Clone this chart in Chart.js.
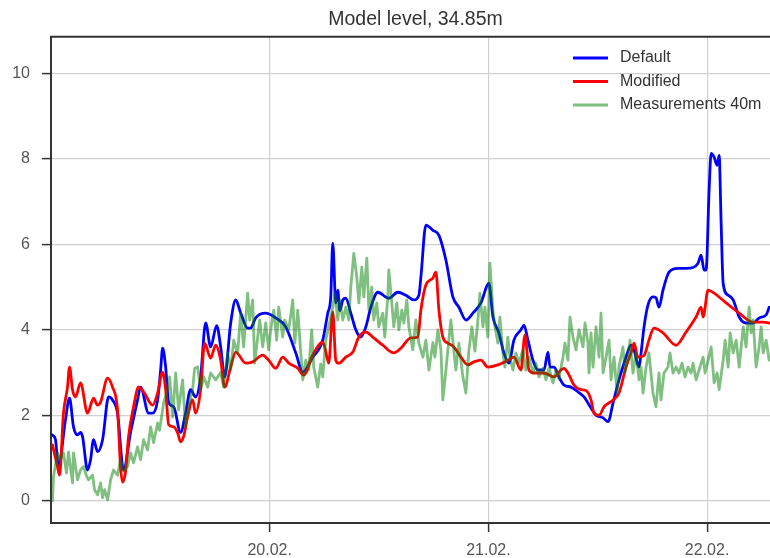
<!DOCTYPE html>
<html>
<head>
<meta charset="utf-8">
<script src="https://cdn.jsdelivr.net/npm/chart.js@4.4.1/dist/chart.umd.min.js"></script>
<style>
html, body { margin: 0; padding: 0; background: #fff; overflow: hidden; width: 770px; height: 558px; }
canvas { display: block; }
</style>
</head>
<body>
<canvas id="grafica" width="780" height="558"></canvas>
<script>
// horas desde 19.02. 00:00 , valor
const seriesNames = ['Default', 'Modified', 'Measurements 40m'];
const tickHours = [24, 48, 72];
const tickLabels = ['20.02.', '21.02.', '22.02.'];
const yTicks = [0, 2, 4, 6, 8, 10];

const defaultPts = [
  [0.16,1.54],[0.49,1.43],[0.82,0.8],[1.59,1.9],[2.03,2.4],[2.47,1.73],[2.91,1.54],[3.24,1.6],[3.46,1.5],[4.01,0.72],
  [4.34,0.96],[4.67,1.43],[5.11,1.15],[5.66,1.43],[6.32,2.43],[6.75,2.36],[7.3,2.05],[7.96,0.72],[8.73,1.6],[9.5,2.36],
  [9.83,2.66],[10.71,2.05],[11.15,2.05],[11.7,2.36],[12.03,3.06],[12.25,3.57],[12.58,3.13],[12.91,2.3],[13.46,2.2],[14.22,1.6],
  [14.77,2.05],[15.32,2.6],[15.87,2.43],[16.42,2.9],[16.97,4.16],[17.52,3.6],[18.18,4.1],[18.62,3.6],[19.06,2.9],[19.72,4.16],
  [20.27,4.7],[20.81,4.4],[21.58,4.04],[21.91,4.04],[22.46,4.28],[23.56,4.39],[24.66,4.28],[25.76,4.07],[26.86,3.46],[27.63,3.01],
  [28.72,3.36],[29.82,3.76],[30.37,4.39],[30.7,4.77],[30.92,6.03],[31.25,4.63],[31.47,4.93],[31.69,4.45],[32.02,4.7],[32.35,4.74],
  [32.9,4.39],[33.45,4.0],[34.0,3.83],[34.55,4.07],[35.1,4.53],[35.86,4.88],[37.07,4.74],[38.06,4.88],[38.94,4.81],[39.82,4.7],
  [40.37,4.81],[40.59,5.23],[41.14,6.45],[41.91,6.33],[42.57,6.21],[43.34,5.63],[44.1,4.77],[44.76,4.53],[45.53,4.23],[46.3,4.39],
  [47.18,4.63],[48.05,5.09],[48.5,4.3],[49.15,3.93],[49.7,3.46],[50.25,3.22],[50.8,3.76],[51.57,4.0],[51.9,4.11],[52.34,3.76],
  [52.89,3.29],[53.44,3.06],[54.1,3.06],[54.54,3.48],[54.76,3.13],[55.2,3.13],[55.74,2.9],[56.29,2.71],[57.06,2.66],[57.83,2.55],
  [58.49,2.43],[59.26,2.17],[59.81,2.0],[60.58,1.94],[61.13,1.85],[61.68,2.29],[62.33,2.83],[63.1,3.36],[63.65,3.64],[63.98,3.53],
  [64.53,3.13],[64.75,3.45],[65.08,4.07],[65.51,4.58],[66.06,4.77],[66.39,4.75],[66.72,4.53],[67.16,4.93],[67.82,5.35],[68.81,5.44],
  [69.69,5.44],[70.46,5.46],[71.01,5.56],[71.34,5.75],[71.67,5.4],[71.89,5.4],[72.22,7.27],[72.44,8.13],[72.77,8.04],[73.1,7.85],
  [73.32,8.08],[73.54,6.5],[73.76,5.09],[74.31,4.81],[74.86,4.7],[75.52,4.3],[76.28,4.16],[77.05,4.16],[77.71,4.28],[78.48,4.35],
  [78.81,4.53]
];

const modifiedPts = [
  [0.16,1.31],[0.71,0.8],[0.93,0.6],[1.37,2.05],[1.81,2.66],[2.03,3.13],[2.36,2.6],[2.69,2.43],[3.24,2.76],[4.01,2.05],
  [4.67,2.4],[5.11,2.24],[5.44,2.31],[6.21,2.87],[6.75,2.66],[7.3,2.13],[7.63,0.8],[7.85,0.44],[8.18,0.68],[8.51,1.5],
  [9.06,2.2],[9.61,2.66],[10.16,2.55],[11.15,2.24],[11.7,2.52],[12.25,3.01],[12.58,2.6],[12.91,1.78],[13.46,1.73],[13.9,1.59],
  [14.22,1.38],[14.55,1.5],[14.99,1.96],[15.54,2.36],[15.87,2.05],[16.42,2.6],[16.86,3.69],[17.52,3.34],[18.07,3.64],[18.62,3.29],
  [19.06,2.66],[19.72,3.13],[20.27,3.48],[21.36,3.22],[22.13,3.25],[23.23,3.41],[23.89,3.29],[24.66,3.1],[25.43,3.36],[26.09,3.22],
  [27.08,3.1],[27.74,2.94],[28.72,3.41],[29.82,3.71],[30.37,3.29],[30.48,3.22],[30.92,4.42],[31.25,3.29],[31.58,3.22],[32.35,3.36],
  [33.12,3.48],[33.78,3.83],[34.55,3.95],[35.31,3.83],[36.41,3.64],[37.62,3.46],[38.39,3.57],[39.49,3.81],[40.26,3.83],[40.59,4.46],
  [41.14,5.05],[41.91,5.21],[42.24,5.35],[42.57,4.46],[43.0,3.83],[43.55,3.69],[44.21,3.6],[44.98,3.36],[45.75,3.18],[46.41,3.25],
  [47.18,3.29],[47.94,3.13],[49.04,3.18],[50.14,3.29],[50.8,3.36],[51.57,3.06],[52.01,3.88],[52.45,3.06],[53.0,2.99],[54.1,2.99],
  [55.2,2.9],[55.96,3.06],[56.29,3.1],[56.73,2.99],[57.39,2.71],[58.16,2.6],[58.71,2.58],[59.26,2.36],[59.59,2.05],[60.14,2.0],
  [60.69,2.2],[61.68,2.36],[62.33,2.52],[63.1,3.13],[63.65,3.46],[63.98,3.69],[64.42,3.36],[65.08,3.4],[65.62,3.76],[66.17,4.04],
  [67.16,3.93],[68.59,3.64],[69.69,3.95],[70.79,4.3],[71.34,4.53],[71.56,4.3],[72.11,4.93],[72.77,4.86],[74.09,4.63],[75.52,4.39],
  [77.05,4.18],[78.15,4.18],[78.81,4.16]
];

const measuredPts = [
  [0.16,0.0],[0.27,0.56],[0.71,1.12],[1.04,0.96],[1.37,1.12],[1.7,0.65],[1.92,1.14],[2.36,0.42],[2.47,1.12],[2.91,0.49],
  [3.24,0.72],[3.57,0.8],[3.9,0.58],[4.12,0.49],[4.56,0.6],[4.78,0.26],[5.11,0.14],[5.44,0.42],[5.66,0.07],[5.88,0.26],
  [6.21,0.02],[6.54,0.49],[6.86,0.72],[7.3,0.6],[7.63,0.96],[7.96,0.7],[8.4,0.8],[8.73,1.12],[9.06,0.89],[9.5,1.26],
  [9.83,0.96],[10.16,1.43],[10.6,1.19],[10.93,1.73],[11.26,1.36],[11.7,1.82],[11.92,1.65],[12.36,2.29],[12.8,2.6],[13.02,2.9],
  [13.35,1.96],[13.68,2.99],[14.0,2.13],[14.44,2.83],[14.77,1.73],[15.1,2.2],[15.54,2.6],[15.76,3.1],[16.09,3.13],[16.42,2.6],
  [16.75,2.9],[17.19,2.66],[17.52,2.99],[18.07,2.83],[18.62,3.0],[18.95,2.66],[19.39,3.46],[19.72,3.06],[20.05,3.76],[20.48,3.45],
  [20.81,4.39],[21.14,3.6],[21.58,4.86],[21.8,4.23],[22.13,4.7],[22.35,3.22],[22.68,3.83],[22.9,4.23],[23.23,3.6],[23.56,4.16],
  [23.89,3.53],[24.11,4.0],[24.44,4.46],[24.77,3.76],[24.99,4.53],[25.43,3.83],[25.65,4.23],[26.09,4.0],[26.53,4.7],[26.75,3.69],
  [27.08,4.46],[27.41,3.46],[27.63,2.83],[27.96,3.29],[28.28,3.06],[28.61,4.0],[28.83,3.13],[29.27,2.66],[29.6,3.2],[29.82,2.9],
  [30.15,3.76],[30.48,4.07],[30.92,4.53],[31.14,4.86],[31.47,4.23],[31.69,4.7],[32.02,4.23],[32.35,4.53],[32.68,4.23],[32.9,5.0],
  [33.23,5.79],[33.56,5.23],[33.78,4.63],[34.11,5.47],[34.33,4.77],[34.66,5.68],[34.88,4.46],[35.2,5.0],[35.42,4.23],[35.75,4.63],
  [35.97,4.07],[36.41,4.39],[36.63,3.83],[36.96,4.77],[37.07,5.4],[37.4,4.63],[37.62,4.07],[37.95,4.63],[38.17,4.0],[38.5,4.46],
  [38.72,4.16],[39.05,4.7],[39.27,4.07],[39.71,3.53],[40.04,4.23],[40.37,3.69],[40.81,3.36],[41.14,3.76],[41.47,3.06],[41.91,3.7],
  [42.13,3.36],[42.46,4.0],[42.79,3.53],[43.0,2.36],[43.34,3.06],[43.55,3.53],[43.88,4.23],[44.21,3.5],[44.43,3.06],[44.76,3.69],
  [45.2,2.9],[45.53,2.52],[45.86,3.53],[46.19,4.07],[46.52,3.5],[46.85,4.23],[47.07,4.86],[47.4,4.07],[47.62,4.53],[47.94,3.83],
  [48.16,5.56],[48.5,4.46],[48.72,4.07],[49.04,3.69],[49.26,4.3],[49.59,3.46],[49.81,3.13],[50.14,3.83],[50.36,3.36],[50.69,3.06],
  [51.02,3.46],[51.35,3.22],[51.79,3.53],[52.12,3.06],[52.45,3.36],[52.89,2.99],[53.22,3.22],[53.55,2.9],[53.99,3.1],[54.32,2.83],
  [54.65,3.1],[55.09,2.76],[55.41,3.06],[55.74,2.85],[56.18,3.36],[56.4,3.69],[56.73,3.29],[56.95,4.3],[57.28,3.83],[57.61,3.53],
  [57.94,4.0],[58.38,3.6],[58.6,4.16],[58.93,3.69],[59.04,2.99],[59.26,3.93],[59.48,3.13],[59.81,4.07],[60.14,3.36],[60.36,4.39],
  [60.58,2.99],[60.91,3.36],[61.24,3.76],[61.46,2.83],[61.79,3.36],[62.12,2.52],[62.33,3.13],[62.77,3.6],[62.99,2.99],[63.32,3.36],
  [63.54,3.76],[63.87,2.99],[64.2,3.46],[64.53,2.83],[64.75,3.13],[64.97,2.52],[65.3,3.13],[65.62,3.46],[65.84,2.99],[66.06,2.52],
  [66.39,2.2],[66.72,2.99],[66.94,2.36],[67.27,2.99],[67.71,3.13],[67.93,3.46],[68.26,2.99],[68.59,3.13],[68.92,2.99],[69.25,3.22],
  [69.58,2.9],[69.91,3.13],[70.24,2.99],[70.46,3.22],[70.79,2.83],[71.12,3.06],[71.56,3.36],[71.78,2.99],[72.11,3.29],[72.44,3.6],
  [72.77,2.76],[73.1,2.99],[73.32,2.6],[73.76,3.29],[73.98,3.76],[74.31,3.13],[74.53,3.93],[74.86,3.46],[75.19,3.76],[75.52,3.13],
  [75.74,3.6],[75.96,4.07],[76.28,3.6],[76.61,4.53],[76.83,3.93],[77.05,4.23],[77.38,3.13],[77.71,3.6],[77.93,4.07],[78.15,3.46],
  [78.48,3.76],[78.81,3.29]
];

const colores = ['#0000ff', '#ff0000', 'rgba(0,128,0,0.5)'];
const fuente = "'Liberation Sans', Arial, sans-serif";

function puntos(arr) {
  return arr.map(p => ({x: p[0], y: p[1]}));
}

// marco superior y leyenda dentro del grafico
const extras = {
  id: 'extras',
  afterDatasetsDraw(chart) {
    const ctx = chart.ctx;
    const a = chart.chartArea;
    ctx.save();
    ctx.strokeStyle = '#333';
    ctx.lineWidth = 2;
    ctx.beginPath();
    ctx.moveTo(a.left - 1, a.top);
    ctx.lineTo(a.right, a.top);
    ctx.stroke();

    ctx.font = '16px ' + fuente;
    ctx.textBaseline = 'middle';
    ctx.textAlign = 'left';
    seriesNames.forEach((nom, i) => {
      const y = 58 + i * 23.5;
      ctx.strokeStyle = colores[i];
      ctx.lineWidth = 2.8;
      ctx.beginPath();
      ctx.moveTo(573, y);
      ctx.lineTo(608, y);
      ctx.stroke();
      ctx.fillStyle = '#333';
      ctx.fillText(nom, 620, y);
    });
    ctx.restore();
  }
};

const ctx = document.getElementById('grafica');

new Chart(ctx, {
  type: 'line',
  data: {
    datasets: [{
      label: seriesNames[0],
      data: puntos(defaultPts),
      borderColor: colores[0],
      borderWidth: 2.8,
      cubicInterpolationMode: 'monotone',
      order: 2
    }, {
      label: seriesNames[1],
      data: puntos(modifiedPts),
      borderColor: colores[1],
      borderWidth: 2.8,
      cubicInterpolationMode: 'monotone',
      order: 1
    }, {
      label: seriesNames[2],
      data: puntos(measuredPts),
      borderColor: colores[2],
      borderWidth: 2.8,
      order: 0
    }]
  },
  options: {
    responsive: false,
    animation: false,
    devicePixelRatio: 1,
    layout: { padding: 0 },
    elements: {
      point: { radius: 0 },
      line: { tension: 0, borderJoinStyle: 'round', borderCapStyle: 'round' }
    },
    plugins: {
      legend: { display: false },
      tooltip: { enabled: false },
      title: {
        display: true,
        text: 'Model level, 34.85m',
        fullSize: false,
        color: '#333',
        font: { family: fuente, size: 19.5, weight: 'normal' },
        padding: { top: 8, bottom: 5.3 }
      }
    },
    scales: {
      x: {
        type: 'linear',
        min: 0,
        max: 80,
        afterFit: s => { s.height = 35; },
        afterBuildTicks: s => { s.ticks = tickHours.map(v => ({value: v})); },
        ticks: {
          color: '#555',
          padding: 9,
          maxRotation: 0,
          font: { family: fuente, size: 16 },
          callback: v => tickLabels[tickHours.indexOf(v)]
        },
        grid: { color: '#d0d0d0', lineWidth: 1.2, tickColor: '#333', tickWidth: 1.5, tickLength: 9 },
        border: { color: '#333', width: 2 }
      },
      y: {
        min: -0.52,
        max: 10.86,
        afterFit: s => { s.width = 51; },
        afterBuildTicks: s => { s.ticks = yTicks.map(v => ({value: v})); },
        ticks: {
          color: '#555',
          padding: 12,
          font: { family: fuente, size: 16 }
        },
        grid: { color: '#d0d0d0', lineWidth: 1.2, tickColor: '#333', tickWidth: 1.5, tickLength: 9 },
        border: { color: '#333', width: 2 }
      }
    }
  },
  plugins: [extras]
});
</script>
</body>
</html>
